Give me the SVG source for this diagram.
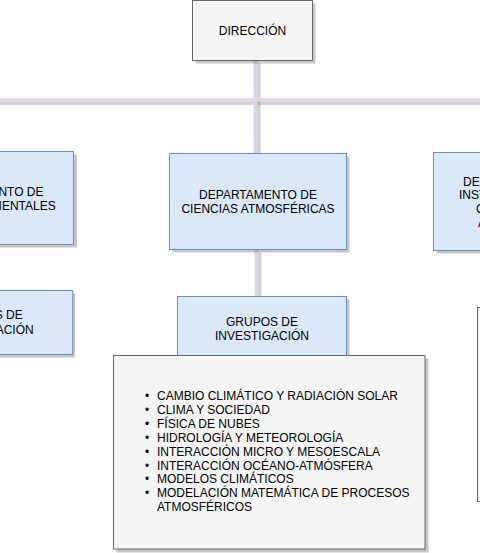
<svg xmlns="http://www.w3.org/2000/svg" width="480" height="553" viewBox="0 0 480 553">
<style>
text{font-family:"Liberation Sans",Arial,Helvetica,sans-serif;font-size:12px;fill:#000}
.c{text-anchor:middle}
.e{text-anchor:end}
.gray{fill:#f5f5f5;stroke:#666666;stroke-width:1}
.blue{fill:#dae8fc;stroke:#6c8ebf;stroke-width:1}
.sh{fill:#000;opacity:0.22}
.ln{stroke:#e1d5e7;stroke-width:4;fill:none}
.lsh{stroke:#000;stroke-width:4;fill:none;opacity:0.18}
</style>
<rect width="480" height="553" fill="#ffffff"/>
<g id="connectors">
  <line class="lsh" x1="258.5" y1="63" x2="258.5" y2="153"/>
  <line class="lsh" x1="0" y1="103" x2="480" y2="103"/>
  <line class="lsh" x1="259.5" y1="252" x2="259.5" y2="296"/>
  <line class="ln" x1="255.5" y1="60" x2="255.5" y2="153"/>
  <line class="ln" x1="0" y1="100" x2="480" y2="100"/>
  <line class="ln" x1="256.5" y1="249" x2="256.5" y2="296"/>
</g>
<g id="direccion">
  <rect class="sh" x="195.5" y="3.5" width="120" height="60"/>
  <rect class="gray" x="192.5" y="0.5" width="120" height="60"/>
  <text class="c" x="252.5" y="34.5">DIRECCIÓN</text>
</g>
<g id="dep-ambientales">
  <rect class="sh" x="-100" y="154.5" width="177" height="93"/>
  <rect class="blue" x="-103" y="151.5" width="176.5" height="93"/>
  <text class="e" x="43.5" y="196">NTO DE</text>
  <text class="e" x="55.7" y="210">IENTALES</text>
</g>
<g id="grupos-ambientales">
  <rect class="sh" x="-97" y="293.5" width="172" height="64"/>
  <rect class="blue" x="-100" y="290.5" width="172.7" height="64"/>
  <text class="e" x="22.7" y="319.3">S DE</text>
  <text class="e" x="33.7" y="333.6">ACIÓN</text>
</g>
<g id="dep-atmosfericas">
  <rect class="sh" x="172.5" y="156.5" width="177" height="96"/>
  <rect class="blue" x="169.5" y="153.5" width="177" height="96"/>
  <text class="c" x="258" y="198.8">DEPARTAMENTO DE</text>
  <text class="c" x="258" y="212.8">CIENCIAS ATMOSFÉRICAS</text>
</g>
<g id="dep-instrumentacion">
  <rect class="sh" x="436.5" y="155.5" width="60" height="98"/>
  <rect class="blue" x="433.5" y="152.5" width="60" height="98"/>
  <text x="463" y="185.5">DE</text>
  <text x="459" y="199.3">INST</text>
  <text x="476" y="213.2">O</text>
  <text x="478" y="227">A</text>
</g>
<g id="grupos-atmosfericas">
  <rect class="sh" x="180.5" y="299.5" width="169" height="64"/>
  <rect class="blue" x="177.5" y="296.5" width="169" height="64"/>
  <text class="c" x="262" y="326">GRUPOS DE</text>
  <text class="c" x="262" y="339.8">INVESTIGACIÓN</text>
</g>
<g id="lista-atmosfericas">
  <rect class="sh" x="116.5" y="358.5" width="312" height="194"/>
  <rect class="gray" x="113.5" y="355.5" width="311.5" height="193.5"/>
  <g>
    <text x="145" y="400">•</text><text x="157" y="400">CAMBIO CLIMÁTICO Y RADIACIÓN SOLAR</text>
    <text x="145" y="413.9">•</text><text x="157" y="413.9">CLIMA Y SOCIEDAD</text>
    <text x="145" y="427.8">•</text><text x="157" y="427.8">FÍSICA DE NUBES</text>
    <text x="145" y="441.7">•</text><text x="157" y="441.7">HIDROLOGÍA Y METEOROLOGÍA</text>
    <text x="145" y="455.6">•</text><text x="157" y="455.6">INTERACCIÓN MICRO Y MESOESCALA</text>
    <text x="145" y="469.5">•</text><text x="157" y="469.5">INTERACCIÓN OCÉANO-ATMÓSFERA</text>
    <text x="145" y="483.4">•</text><text x="157" y="483.4">MODELOS CLIMÁTICOS</text>
    <text x="145" y="497.3">•</text><text x="157" y="497.3">MODELACIÓN MATEMÁTICA DE PROCESOS</text>
    <text x="157" y="511.2">ATMOSFÉRICOS</text>
  </g>
</g>
<g id="lista-instrumentacion">
  <rect class="sh" x="480.5" y="310.5" width="40" height="194"/>
  <rect class="gray" x="477.5" y="307.5" width="40" height="194"/>
</g>
</svg>
